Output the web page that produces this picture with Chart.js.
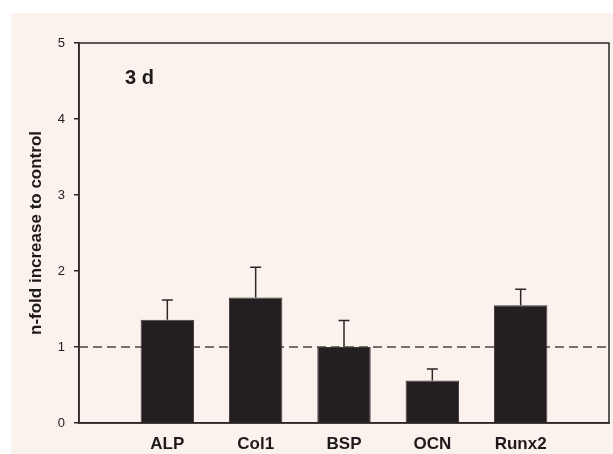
<!DOCTYPE html>
<html>
<head>
<meta charset="utf-8">
<script src="https://cdn.jsdelivr.net/npm/chart.js@4/dist/chart.umd.min.js"></script>
<style>
  html, body { margin: 0; padding: 0; background: #ffffff; }
  #panel {
    position: absolute; left: 11px; top: 13px;
    width: 602px; height: 441px; background: #fcf2ed;
  }
  canvas { display: block; }
</style>
</head>
<body>
<div id="panel"><canvas id="c" width="602" height="441"></canvas></div>
<script>
// Gene expression after 3 days, relative to control
const genes = ['', 'ALP', 'Col1', 'BSP', 'OCN', 'Runx2', ''];
const foldChange = [null, 1.36, 1.65, 1.00, 0.56, 1.55, null];
const errorUp = [null, 0.26, 0.40, 0.35, 0.15, 0.21, null];
const yTicks = [0, 1, 2, 3, 4, 5];
const controlLevel = 1;
const panelLabel = '3 d';

const ink = '#2b2627';
const fontFamily = '"Liberation Sans", Arial, sans-serif';

// Box around the plot area, control reference line and panel label
const frame = {
  id: 'frame',
  beforeDatasetsDraw(chart) {
    const { ctx, chartArea: a, scales } = chart;
    const y = scales.y.getPixelForValue(controlLevel);
    ctx.save();
    ctx.strokeStyle = '#4a4545';
    ctx.lineWidth = 1.5;
    ctx.setLineDash([9, 5]);
    ctx.beginPath();
    ctx.moveTo(a.left, y);
    ctx.lineTo(a.right, y);
    ctx.stroke();
    ctx.restore();
  },
  afterDatasetsDraw(chart) {
    const { ctx, chartArea: a } = chart;
    ctx.save();
    ctx.strokeStyle = ink;
    ctx.lineWidth = 1.5;
    ctx.strokeRect(a.left, a.top, a.right - a.left, a.bottom - a.top);
    ctx.fillStyle = '#1e1a1b';
    ctx.font = 'bold 20px ' + fontFamily;
    ctx.textBaseline = 'alphabetic';
    ctx.fillText(panelLabel, a.left + 46, a.top + 41);
    ctx.restore();
  }
};

// Upward error bars with caps
const errorBars = {
  id: 'errorBars',
  afterDatasetsDraw(chart) {
    const { ctx, scales } = chart;
    const meta = chart.getDatasetMeta(0);
    ctx.save();
    ctx.strokeStyle = ink;
    ctx.lineWidth = 1.5;
    meta.data.forEach((bar, i) => {
      const v = foldChange[i], e = errorUp[i];
      if (v == null || e == null) return;
      const yTop = scales.y.getPixelForValue(v);
      const yErr = scales.y.getPixelForValue(v + e);
      ctx.beginPath();
      ctx.moveTo(bar.x, yTop);
      ctx.lineTo(bar.x, yErr);
      ctx.moveTo(bar.x - 5.5, yErr);
      ctx.lineTo(bar.x + 5.5, yErr);
      ctx.stroke();
    });
    ctx.restore();
  }
};

new Chart(document.getElementById('c'), {
  type: 'bar',
  data: {
    labels: genes,
    datasets: [{
      data: foldChange,
      backgroundColor: '#231f20',
      borderColor: '#3d3839',
      borderWidth: 1,
      categoryPercentage: 1,
      barPercentage: 0.605
    }]
  },
  options: {
    responsive: false,
    animation: false,
    layout: { padding: { top: 30, right: 0, left: 0, bottom: 0 } },
    plugins: { legend: { display: false }, tooltip: { enabled: false } },
    scales: {
      x: {
        offset: false,
        afterFit(s) { s.height = 31; s.paddingRight = 4; },
        grid: { display: true, drawOnChartArea: false, drawTicks: false },
        border: { display: true, color: ink, width: 1.5 },
        ticks: {
          padding: 11,
          color: '#1e1a1b',
          font: { family: fontFamily, size: 17, weight: 'bold' },
          autoSkip: false,
          maxRotation: 0
        }
      },
      y: {
        min: 0,
        max: 5,
        afterFit(s) { s.width = 68; },
        afterBuildTicks(s) { s.ticks = yTicks.map(v => ({ value: v })); },
        grid: { display: true, drawOnChartArea: false, drawTicks: true, tickLength: 5, color: ink, lineWidth: 1.5 },
        border: { display: true, color: ink, width: 1.5 },
        ticks: {
          padding: 9,
          color: '#222',
          font: { family: fontFamily, size: 13 }
        },
        title: {
          display: true,
          text: 'n-fold increase to control',
          color: '#1e1a1b',
          padding: { top: 15, bottom: 0 },
          font: { family: fontFamily, size: 17, weight: 'bold' }
        }
      }
    }
  },
  plugins: [frame, errorBars]
});
</script>
</body>
</html>
